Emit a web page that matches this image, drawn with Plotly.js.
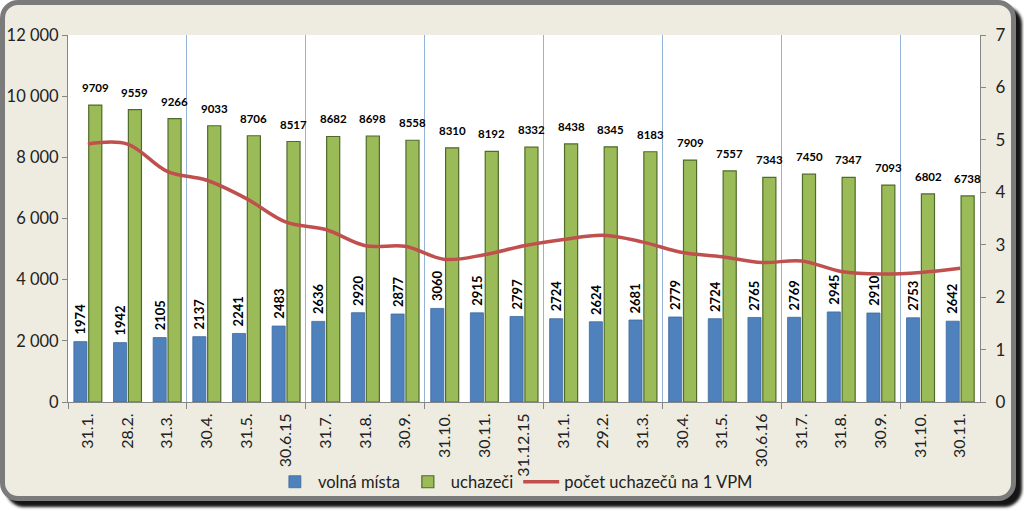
<!DOCTYPE html>
<html>
<head>
<meta charset="utf-8">
<script src="https://cdn.plot.ly/plotly-3.0.1.min.js"></script>
<style>
  html, body { margin: 0; padding: 0; background: #ffffff; }
  #frame {
    position: absolute; left: 0; top: 0;
    width: 1006px; height: 491px;
    border: 5px solid #7b7b7b;
    border-radius: 18px;
    background: #EEECE1;
    box-shadow: 6px 6px 3px #151515;
  }
  #chart { position: absolute; left: 0; top: 0; width: 1024px; height: 511px; }
</style>
</head>
<body>
<div id="frame"></div>
<div id="chart"></div>
<script>
const categories = ["31.1.", "28.2.", "31.3.", "30.4.", "31.5.", "30.6.15", "31.7.", "31.8.", "30.9.", "31.10.", "30.11.", "31.12.15",
                    "31.1.", "29.2.", "31.3.", "30.4.", "31.5.", "30.6.16", "31.7.", "31.8.", "30.9.", "31.10.", "30.11."];
const volnaMista = [1974, 1942, 2105, 2137, 2241, 2483, 2636, 2920, 2877, 3060, 2915, 2797,
                    2724, 2624, 2681, 2779, 2724, 2765, 2769, 2945, 2910, 2753, 2642];
const uchazeci = [9709, 9559, 9266, 9033, 8706, 8517, 8682, 8698, 8558, 8310, 8192, 8332,
                  8438, 8345, 8183, 7909, 7557, 7343, 7450, 7347, 7093, 6802, 6738];
const pocetNaVPM = [4.92, 4.92, 4.40, 4.23, 3.88, 3.43, 3.29, 2.98, 2.97, 2.72, 2.81, 2.98,
                    3.10, 3.18, 3.05, 2.85, 2.77, 2.66, 2.69, 2.49, 2.44, 2.47, 2.55];
const leftTicks = [0, 2000, 4000, 6000, 8000, 10000, 12000];
const rightTicks = [0, 1, 2, 3, 4, 5, 6, 7];

const idx = categories.map((c, i) => i);
const FONT = "Lato, 'Open Sans', sans-serif";

const traces = [
  {
    type: 'bar', name: 'volná místa', x: idx, y: volnaMista,
    marker: { color: '#4F81BD', line: { color: '#3e6a9e', width: 0.8 } },
    hoverinfo: 'skip'
  },
  {
    type: 'bar', name: 'uchazeči', x: idx, y: uchazeci,
    marker: { color: '#9BBB59', line: { color: '#4f6b2a', width: 1.2 } },
    hoverinfo: 'skip'
  },
  {
    type: 'scatter', mode: 'lines', name: 'počet uchazečů na 1 VPM', x: idx, y: pocetNaVPM,
    yaxis: 'y2',
    line: { color: '#C0504D', width: 3.5, shape: 'spline', smoothing: 1 },
    hoverinfo: 'skip'
  },
  {
    type: 'scatter', mode: 'lines', x: [-0.5], y: [0], xaxis: 'x2',
    showlegend: false, hoverinfo: 'skip', line: { color: 'rgba(0,0,0,0)' }
  }
];

const annotations = [];
idx.forEach(i => {
  annotations.push({
    x: i, y: volnaMista[i], xref: 'x', yref: 'y',
    text: String(volnaMista[i]), showarrow: false,
    textangle: -90, xanchor: 'center', yanchor: 'bottom',
    xshift: -7.5, yshift: 5,
    font: { family: FONT, size: 13, color: '#000', weight: 'bold' }
  });
  annotations.push({
    x: i, y: uchazeci[i], xref: 'x', yref: 'y',
    text: String(uchazeci[i]), showarrow: false,
    xanchor: 'center', yanchor: 'bottom',
    xshift: 7.5, yshift: 9,
    font: { family: FONT, size: 11.5, color: '#000', weight: 'bold' }
  });
});

const layout = {
  width: 1024, height: 511,
  margin: { l: 68, r: 44, t: 35, b: 109 },
  paper_bgcolor: 'rgba(0,0,0,0)',
  plot_bgcolor: '#ffffff',
  separators: ', ',
  barmode: 'group',
  bargap: 0.25,
  bargroupgap: 0.12,
  font: { family: FONT, color: '#222' },
  xaxis: {
    range: [-0.5, 22.5],
    tickmode: 'array', tickvals: idx, ticktext: categories,
    tickangle: -90, ticks: '', showgrid: false, zeroline: false,
    showline: true, linecolor: '#868686', linewidth: 1,
    ticklabelstandoff: 4,
    tickfont: { family: FONT, size: 16, color: '#222' },
    fixedrange: true
  },
  xaxis2: {
    overlaying: 'x', anchor: 'y', side: 'bottom',
    range: [-0.5, 22.5], tick0: -0.5, dtick: 3,
    showgrid: true, gridcolor: '#95B3D7', gridwidth: 1,
    ticks: 'outside', ticklen: 6, tickcolor: '#868686',
    showticklabels: false, zeroline: false, showline: false
  },
  yaxis: {
    range: [0, 12000], tickmode: 'array', tickvals: leftTicks, tickformat: ',d',
    ticks: 'outside', ticklen: 5, tickcolor: '#868686',
    showline: true, linecolor: '#868686', linewidth: 1,
    showgrid: false, zeroline: false,
    tickfont: { family: FONT, size: 16.5, color: '#222' }
  },
  yaxis2: {
    range: [0, 7], tickmode: 'array', tickvals: rightTicks,
    overlaying: 'y', side: 'right',
    ticks: 'outside', ticklen: 5, tickcolor: '#868686',
    showline: true, linecolor: '#868686', linewidth: 1,
    showgrid: false, zeroline: false,
    ticklabelstandoff: 6,
    tickfont: { family: FONT, size: 17, color: '#222' }
  },
  legend: {
    orientation: 'h', x: 0.49, xanchor: 'center', y: -0.218, yanchor: 'middle',
    font: { family: FONT, size: 16.5, color: '#222' },
    bgcolor: 'rgba(0,0,0,0)', traceorder: 'normal', itemwidth: 36
  },
  annotations: annotations,
  showlegend: true
};

Plotly.newPlot('chart', traces, layout, { staticPlot: true, displayModeBar: false });
</script>
</body>
</html>
